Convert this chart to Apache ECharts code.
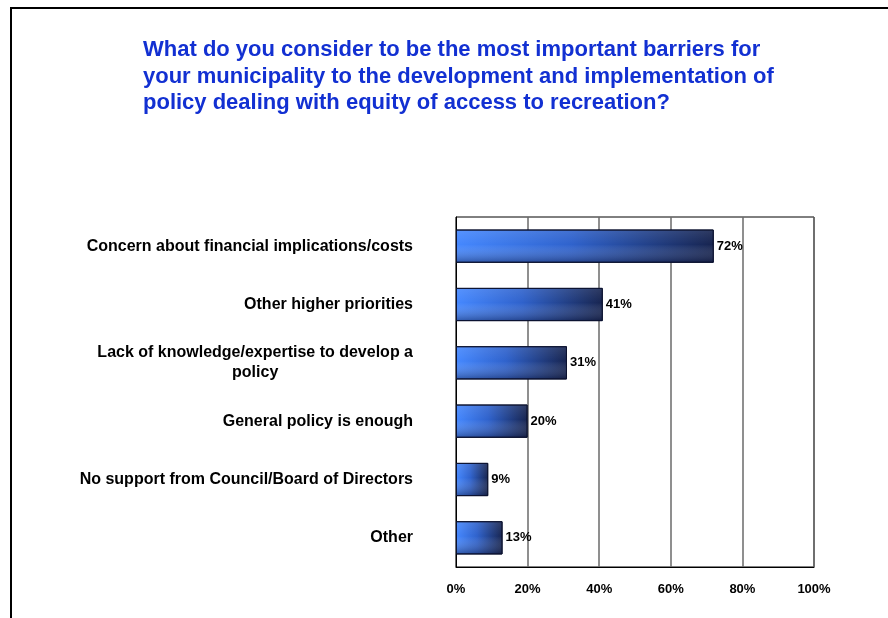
<!DOCTYPE html>
<html>
<head>
<meta charset="utf-8">
<script src="https://cdn.jsdelivr.net/npm/echarts@6/dist/echarts.min.js"></script>
<style>
  html, body { margin: 0; padding: 0; background: #fff; }
  #wrap { position: relative; width: 888px; height: 618px; overflow: hidden; }
  #frame { position: absolute; left: 10px; top: 7px; width: 900px; height: 700px;
           border-left: 2px solid #000; border-top: 2px solid #000; box-sizing: border-box; pointer-events: none; }
  #chart { position: absolute; left: 0; top: 0; width: 888px; height: 618px; }
</style>
</head>
<body>
<div id="wrap">
  <div id="chart"></div>
  <div id="frame"></div>
</div>
<script>
// Survey responses: barriers to equity-of-access policy
const titleLines = [
  'What do you consider to be the most important barriers for',
  'your municipality to the development and implementation of',
  'policy dealing with equity of access to recreation?'
];
const categories = [
  'Concern about financial implications/costs',
  'Other higher priorities',
  'Lack of knowledge/expertise to develop a\npolicy',
  'General policy is enough',
  'No support from Council/Board of Directors',
  'Other'
];
const percentages = [72, 41, 31, 20, 9, 13];
const axisTicks = [0, 20, 40, 60, 80, 100];

const FONT = 'Arial, "Liberation Sans", Helvetica, sans-serif';

const chart = echarts.init(document.getElementById('chart'), null, { renderer: 'canvas' });

chart.setOption({
  backgroundColor: '#ffffff',
  animation: false,
  title: {
    text: titleLines.join('\n'),
    left: 138,
    top: 32,
    textStyle: {
      fontFamily: FONT,
      fontSize: 22,
      fontWeight: 'bold',
      lineHeight: 26.5,
      color: '#1230d2'
    }
  },
  grid: {
    left: 456,
    right: 74,
    top: 217,
    bottom: 51,
    show: true,
    borderColor: '#000',
    borderWidth: 1,
    backgroundColor: 'transparent'
  },
  xAxis: {
    type: 'value',
    min: axisTicks[0],
    max: axisTicks[axisTicks.length - 1],
    interval: axisTicks[1] - axisTicks[0],
    axisLine: { show: true, lineStyle: { color: '#000', width: 1 } },
    axisTick: { show: false },
    splitLine: { show: true, lineStyle: { color: '#6a6a6a', width: 1.5 } },
    axisLabel: {
      margin: 16,
      formatter: '{value}%',
      fontFamily: FONT,
      fontSize: 13,
      fontWeight: 'bold',
      color: '#000'
    }
  },
  yAxis: {
    type: 'category',
    data: categories,
    inverse: true,
    axisLine: { show: true, lineStyle: { color: '#000', width: 1 } },
    axisTick: { show: false },
    splitLine: { show: false },
    axisLabel: {
      margin: 43,
      fontFamily: FONT,
      fontSize: 16,
      fontWeight: 'bold',
      color: '#000',
      lineHeight: 20,
      formatter: function (v) {
        return v.split('\n').map(function (l) { return '{c|' + l + '}'; }).join('\n');
      },
      rich: {
        c: {
          align: 'center',
          fontFamily: FONT,
          fontSize: 16,
          fontWeight: 'bold',
          color: '#000',
          lineHeight: 20
        }
      }
    }
  },
  series: [
    {
      type: 'bar',
      data: percentages,
      barWidth: '57%',
      itemStyle: {
        color: new echarts.graphic.LinearGradient(0, 0, 1, 0, [
          { offset: 0, color: '#4588ff' },
          { offset: 0.45, color: '#2f62cc' },
          { offset: 1, color: '#17244f' }
        ]),
        borderColor: '#0b1230',
        borderWidth: 1
      },
      label: {
        show: true,
        position: 'right',
        distance: 3,
        formatter: '{c}%',
        fontFamily: FONT,
        fontSize: 13,
        fontWeight: 'bold',
        color: '#000'
      },
      z: 2
    },
    {
      // vertical shading laid over the same bars
      type: 'bar',
      data: percentages,
      barWidth: '57%',
      barGap: '-100%',
      silent: true,
      itemStyle: {
        color: new echarts.graphic.LinearGradient(0, 0, 0, 1, [
          { offset: 0, color: 'rgba(255,255,255,0.10)' },
          { offset: 0.45, color: 'rgba(255,255,255,0.0)' },
          { offset: 1, color: 'rgba(5,10,40,0.40)' }
        ]),
        borderColor: '#0b1230',
        borderWidth: 1
      },
      label: { show: false },
      z: 3
    }
  ]
});
</script>
</body>
</html>
